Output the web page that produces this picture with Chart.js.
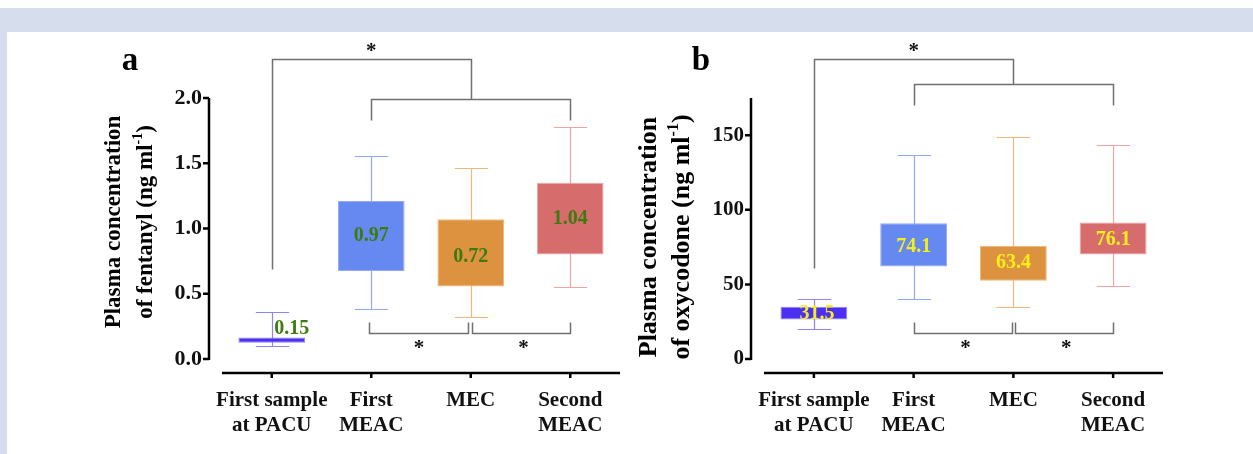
<!DOCTYPE html>
<html>
<head>
<meta charset="utf-8">
<script src="https://cdn.jsdelivr.net/npm/chart.js@4.4.1/dist/chart.umd.min.js"></script>
<style>
  html, body { margin: 0; padding: 0; background: #fff; }
  #page { position: relative; width: 1253px; height: 454px; overflow: hidden; background: #fff; }
  #band { position: absolute; left: 0; top: 8px; width: 1253px; height: 24px; background: #d6deee; }
  #strip { position: absolute; left: 0; top: 32px; width: 7px; height: 422px; background: #d6deee; }
  canvas { position: absolute; top: 0; }
  #chartA { left: 0; }
  #chartB { left: 626px; }
</style>
</head>
<body>
<div id="page">
  <div id="band"></div>
  <div id="strip"></div>
  <canvas id="chartA" width="700" height="454"></canvas>
  <canvas id="chartB" width="627" height="454"></canvas>
</div>
<script>
var categories = [["First sample", "at PACU"], ["First", "MEAC"], ["MEC"], ["Second", "MEAC"]];

// panel a - fentanyl (ng/ml)
var fentanylMin = [0.10, 0.38, 0.32, 0.55];
var fentanylQ1 = [0.125, 0.675, 0.555, 0.80];
var fentanylQ3 = [0.165, 1.21, 1.07, 1.35];
var fentanylMax = [0.36, 1.555, 1.46, 1.775];
var fentanylMedian = ["0.15", "0.97", "0.72", "1.04"];
var fentanylTicks = [0, 0.5, 1.0, 1.5, 2.0];
var fentanylTickLabels = ["0.0", "0.5", "1.0", "1.5", "2.0"];

// panel b - oxycodone (ng/ml)
var oxycodoneMin = [20, 40, 35, 49];
var oxycodoneQ1 = [26.5, 62, 52.5, 70];
var oxycodoneQ3 = [35, 91, 76, 91.5];
var oxycodoneMax = [40, 137, 149, 143.5];
var oxycodoneMedian = ["31.5", "74.1", "63.4", "76.1"];
var oxycodoneTicks = [0, 50, 100, 150];
var oxycodoneTickLabels = ["0", "50", "100", "150"];

var boxColors = ["#4c30f2", "#6688f1", "#dc923e", "#d76c6d"];
var whiskerColors = ["#8e84f7", "#91aaf8", "#f1b679", "#eea5a5"];

var FONT = "'Liberation Serif', 'Times New Roman', serif";

function font(size) {
    return "bold " + size + "px " + FONT;
}

var boxPlotPlugin = {
    id: 'boxPlot',
    beforeDatasetsDraw: function (chart, args, opts) {
        var ctx = chart.ctx;
        var y = chart.scales.y;
        var meta = chart.getDatasetMeta(0);
        ctx.save();
        ctx.lineWidth = 1.2;
        opts.min.forEach(function (lo, i) {
            var bar = meta.data[i];
            var cx = Math.round(bar.x) + 0.5;
            var cap = bar.width * 0.25;
            var yTop = Math.round(y.getPixelForValue(opts.max[i])) + 0.5;
            var yBot = Math.round(y.getPixelForValue(lo)) + 0.5;
            ctx.strokeStyle = whiskerColors[i];
            ctx.beginPath();
            ctx.moveTo(cx, yTop);
            ctx.lineTo(cx, yBot);
            ctx.moveTo(cx - cap, yTop);
            ctx.lineTo(cx + cap, yTop);
            ctx.moveTo(cx - cap, yBot);
            ctx.lineTo(cx + cap, yBot);
            ctx.stroke();
        });
        ctx.restore();
    },
    afterDraw: function (chart, args, opts) {
        var ctx = chart.ctx;
        var x = chart.scales.x;
        var y = chart.scales.y;
        var area = chart.chartArea;
        var meta = chart.getDatasetMeta(0);
        ctx.save();

        // offset axes, GraphPad style
        var axisX = area.left - 13;
        var axisY = area.bottom + 14;
        ctx.strokeStyle = '#000';
        ctx.lineWidth = 2.5;
        ctx.beginPath();
        ctx.moveTo(axisX, y.getPixelForValue(0) + 1);
        ctx.lineTo(axisX, y.getPixelForValue(y.max));
        y.ticks.forEach(function (t) {
            var py = y.getPixelForValue(t.value);
            ctx.moveTo(axisX, py);
            ctx.lineTo(axisX - 6, py);
        });
        ctx.moveTo(area.left, axisY);
        ctx.lineTo(area.right, axisY);
        x.ticks.forEach(function (t, i) {
            var px = x.getPixelForValue(i);
            ctx.moveTo(px, axisY);
            ctx.lineTo(px, axisY + 5);
        });
        ctx.stroke();

        // median labels
        ctx.font = font(20);
        ctx.fillStyle = opts.labelColor;
        ctx.textAlign = 'center';
        ctx.textBaseline = 'middle';
        opts.medians.forEach(function (txt, i) {
            var bar = meta.data[i];
            var nudge = opts.labelNudge[i] || [0, 0];
            var cy = (y.getPixelForValue(opts.q1[i]) + y.getPixelForValue(opts.q3[i])) / 2;
            ctx.fillText(txt, bar.x + nudge[0], cy + nudge[1]);
        });

        // significance brackets
        ctx.strokeStyle = '#707070';
        ctx.lineWidth = 1.5;
        opts.brackets.forEach(function (pts) {
            ctx.beginPath();
            pts.forEach(function (p, k) {
                var px = Math.round(x.getPixelForValue(p[0])) + 0.5;
                var py = Math.round(y.getPixelForValue(p[1])) + 0.5;
                if (k === 0) ctx.moveTo(px, py); else ctx.lineTo(px, py);
            });
            ctx.stroke();
        });
        ctx.fillStyle = '#111';
        ctx.font = font(21);
        ctx.textBaseline = 'alphabetic';
        opts.stars.forEach(function (s) {
            ctx.fillText('*', x.getPixelForValue(s[0]), y.getPixelForValue(s[1]) + 10);
        });

        // panel letter
        ctx.font = font(33);
        ctx.fillStyle = '#000';
        ctx.fillText(opts.letter[0], opts.letter[1], opts.letter[2]);

        // y axis title, two rotated lines with superscript
        var t = opts.title;
        ctx.translate(t.x, t.y);
        ctx.rotate(-Math.PI / 2);
        ctx.textBaseline = 'middle';
        ctx.textAlign = 'center';
        ctx.font = font(t.size);
        ctx.fillText(t.lines[0], 0, -t.gap / 2);
        var supSize = Math.round(t.size * 0.62);
        ctx.textAlign = 'left';
        var w1 = ctx.measureText(t.lines[1]).width;
        var w3 = ctx.measureText(')').width;
        ctx.font = font(supSize);
        var w2 = ctx.measureText('-1').width;
        var sx = -(w1 + w2 + w3) / 2;
        ctx.font = font(t.size);
        ctx.fillText(t.lines[1], sx, t.gap / 2);
        ctx.font = font(supSize);
        ctx.fillText('-1', sx + w1, t.gap / 2 - t.size * 0.33);
        ctx.font = font(t.size);
        ctx.fillText(')', sx + w1 + w2, t.gap / 2);
        ctx.restore();
    }
};

function makeChart(id, cfg) {
    return new Chart(document.getElementById(id), {
        type: 'bar',
        data: {
            labels: categories,
            datasets: [{
                data: cfg.q1.map(function (v, i) { return [v, cfg.q3[i]]; }),
                backgroundColor: boxColors,
                borderColor: whiskerColors,
                borderWidth: 1,
                borderSkipped: false,
                barPercentage: 0.67,
                categoryPercentage: 1
            }]
        },
        options: {
            responsive: false,
            animation: false,
            layout: { padding: { top: 98, right: cfg.rightPad, left: 0, bottom: 0 } },
            plugins: {
                legend: { display: false },
                tooltip: { enabled: false },
                boxPlot: cfg.plot
            },
            scales: {
                x: {
                    grid: { display: false, drawTicks: false },
                    border: { display: false },
                    ticks: {
                        color: '#111',
                        font: { family: FONT, size: 21, weight: 'bold', lineHeight: 1.2 },
                        padding: 29,
                        maxRotation: 0,
                        autoSkip: false
                    },
                    afterFit: function (s) { s.height = 95; }
                },
                y: {
                    min: 0,
                    max: cfg.max,
                    grid: { display: false, drawTicks: false },
                    border: { display: false },
                    afterBuildTicks: function (s) {
                        s.ticks = cfg.ticks.map(function (v) { return { value: v }; });
                    },
                    ticks: {
                        color: '#111',
                        font: { family: FONT, size: cfg.tickSize, weight: 'bold' },
                        padding: 20,
                        callback: function (v, i) { return cfg.tickLabels[i]; }
                    },
                    afterFit: function (s) { s.width = cfg.axisLeft; }
                }
            }
        },
        plugins: [boxPlotPlugin]
    });
}

(function () {
    makeChart('chartA', {
        q1: fentanylQ1, q3: fentanylQ3, max: 2.0,
        ticks: fentanylTicks, tickLabels: fentanylTickLabels, tickSize: 22,
        axisLeft: 222, rightPad: 80,
        plot: {
            min: fentanylMin, max: fentanylMax, q1: fentanylQ1, q3: fentanylQ3,
            medians: fentanylMedian, labelColor: '#3d7a10',
            labelNudge: [[20, -11], [0, 0], [0, 4], [0, 0]],
            brackets: [
                [[0, 0.69], [0, 2.30], [2, 2.30], [2, 1.99]],
                [[1, 1.83], [1, 1.99], [3, 1.99], [3, 1.83]],
                [[0.98, 0.283], [0.98, 0.199], [1.97, 0.199], [1.97, 0.283]],
                [[2.01, 0.283], [2.01, 0.199], [3, 0.199], [3, 0.283]]
            ],
            stars: [[1, 2.39], [1.48, 0.115], [2.53, 0.115]],
            letter: ['a', 130, 70],
            title: { x: 130, y: 222, gap: 32, size: 23, lines: ['Plasma concentration', 'of fentanyl (ng ml'] }
        }
    });

    makeChart('chartB', {
        q1: oxycodoneQ1, q3: oxycodoneQ3, max: 175,
        ticks: oxycodoneTicks, tickLabels: oxycodoneTickLabels, tickSize: 21,
        axisLeft: 138, rightPad: 90,
        plot: {
            min: oxycodoneMin, max: oxycodoneMax, q1: oxycodoneQ1, q3: oxycodoneQ3,
            medians: oxycodoneMedian, labelColor: '#f6ee1c',
            labelNudge: [[3, 1], [0, 2], [0, 0], [0, 1]],
            brackets: [
                [[0, 61], [0, 201], [2, 201], [2, 184.4]],
                [[1, 170], [1, 184.4], [3, 184.4], [3, 170]],
                [[1, 24.7], [1, 17.4], [1.99, 17.4], [1.99, 24.7]],
                [[2.02, 24.7], [2.02, 17.4], [3, 17.4], [3, 24.7]]
            ],
            stars: [[1, 209], [1.52, 10], [2.53, 10]],
            letter: ['b', 75, 70],
            title: { x: 40, y: 237, gap: 33, size: 26, lines: ['Plasma concentration', 'of oxycodone (ng ml'] }
        }
    });
})();
</script>
</body>
</html>
